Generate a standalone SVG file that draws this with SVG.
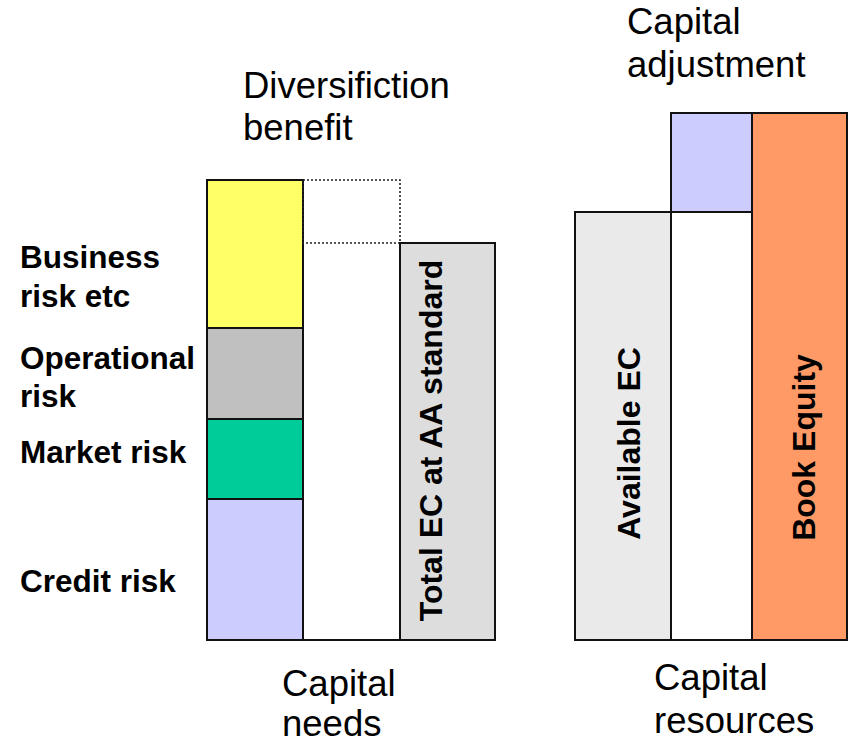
<svg xmlns="http://www.w3.org/2000/svg" width="849" height="744" viewBox="0 0 849 744">
  <style>
    .bar { stroke: #111; stroke-width: 2; }
    .dotted { fill: none; stroke: #222; stroke-width: 1.6; stroke-dasharray: 2 2; }
    .base { stroke: #111; stroke-width: 2; fill: none; }
    .lbl { font-family: "Liberation Sans", Arial, sans-serif; font-size: 31.5px; font-weight: bold; fill: #000; }
    .cap { font-family: "Liberation Sans", Arial, sans-serif; font-size: 36.5px; fill: #000; }
    .vert { font-family: "Liberation Sans", Arial, sans-serif; font-size: 32px; font-weight: bold; fill: #000; text-anchor: middle; }
  </style>
  <rect width="849" height="744" fill="#fff"/>

  <!-- Capital needs: stacked risk column -->
  <g id="business-risk">
    <rect class="bar" x="207" y="180" width="96" height="148" fill="#FFFF66"/>
    <text class="lbl" x="20" y="268">Business</text>
    <text class="lbl" x="20" y="307">risk etc</text>
  </g>
  <g id="operational-risk">
    <rect class="bar" x="207" y="328" width="96" height="91" fill="#C0C0C0"/>
    <text class="lbl" x="20" y="369">Operational</text>
    <text class="lbl" x="20" y="407">risk</text>
  </g>
  <g id="market-risk">
    <rect class="bar" x="207" y="419" width="96" height="80" fill="#00CC99"/>
    <text class="lbl" x="20" y="463">Market risk</text>
  </g>
  <g id="credit-risk">
    <rect class="bar" x="207" y="499" width="96" height="141" fill="#CCCCFF"/>
    <text class="lbl" x="20" y="592">Credit risk</text>
  </g>

  <!-- Diversification benefit gap -->
  <g id="diversification-benefit">
    <rect class="dotted" x="303" y="180" width="97" height="63"/>
    <text class="cap" x="243" y="98">Diversifiction</text>
    <text class="cap" x="243" y="140">benefit</text>
  </g>

  <g id="total-ec">
    <rect class="bar" x="400" y="243" width="95" height="397" fill="#DDDDDD"/>
    <text class="vert" transform="translate(442,440.5) rotate(-90)">Total EC at AA standard</text>
  </g>

  <g id="capital-needs-label">
    <text class="cap" x="282" y="696">Capital</text>
    <text class="cap" x="282" y="736">needs</text>
  </g>

  <!-- Capital resources -->
  <g id="available-ec">
    <rect class="bar" x="575" y="212" width="96" height="428" fill="#EAEAEA"/>
    <text class="vert" transform="translate(640,443.5) rotate(-90)">Available EC</text>
  </g>
  <g id="capital-adjustment">
    <rect class="bar" x="671" y="113" width="81" height="99" fill="#CCCCFF"/>
    <rect class="bar" x="671" y="212" width="81" height="428" fill="#FFFFFF"/>
    <text class="cap" x="627" y="34">Capital</text>
    <text class="cap" x="627" y="77">adjustment</text>
  </g>
  <g id="book-equity">
    <rect class="bar" x="752" y="113" width="95" height="527" fill="#FF9966"/>
    <text class="vert" transform="translate(815,447.5) rotate(-90)">Book Equity</text>
  </g>

  <g id="capital-resources-label">
    <text class="cap" x="654" y="690">Capital</text>
    <text class="cap" x="654" y="733">resources</text>
  </g>

  <!-- Baselines under both stacks -->
  <g id="connectors">
    <line class="base" x1="207" y1="640" x2="495" y2="640"/>
    <line class="base" x1="575" y1="640" x2="847" y2="640"/>
  </g>
</svg>
